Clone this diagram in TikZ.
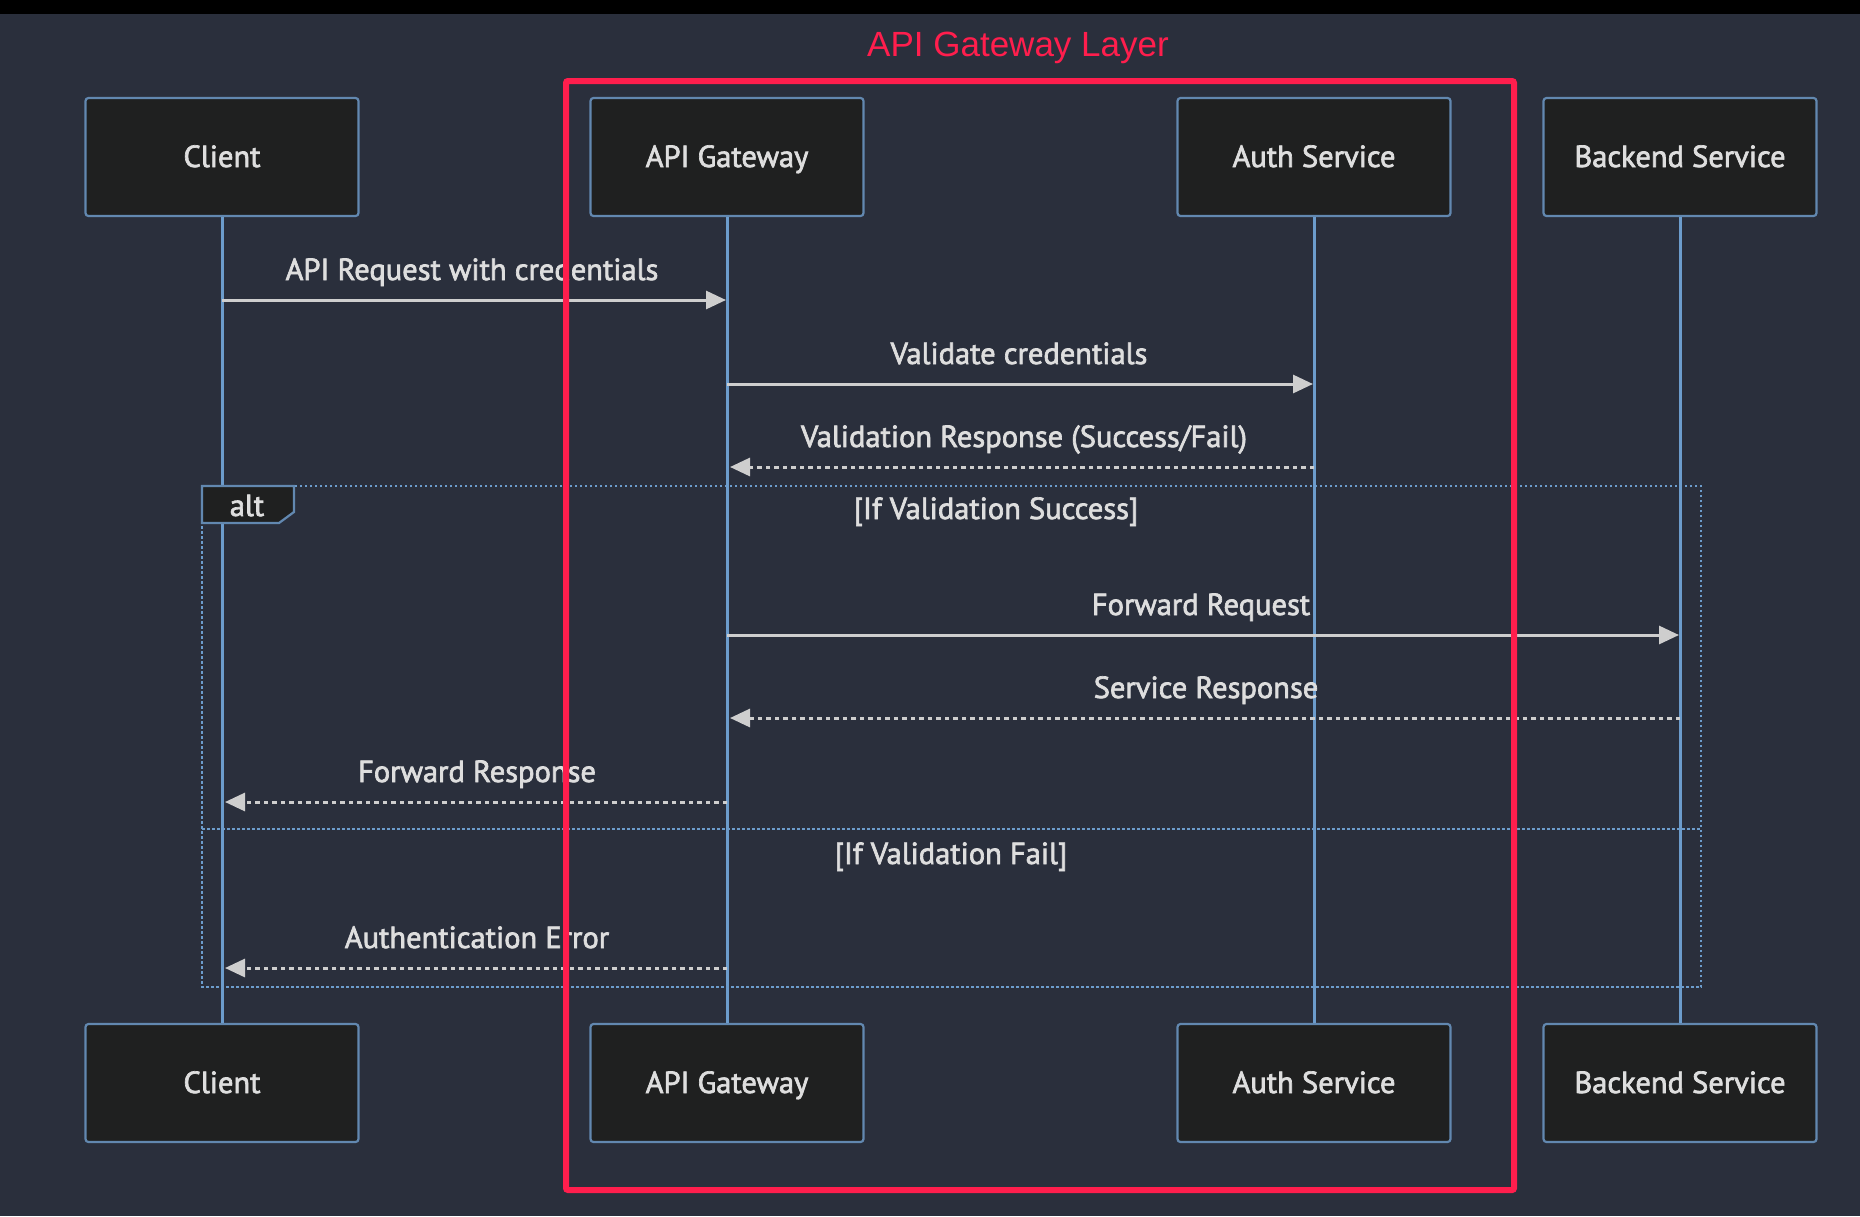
\documentclass[tikz,border=0pt]{standalone}
\usepackage{fontspec}
\setmainfont{PT Sans}
\newfontfamily\titlefont{Liberation Sans}
\newfontfamily\lblfont[FakeBold=2.2]{PT Sans}
\usetikzlibrary{arrows.meta}
\definecolor{bgc}{RGB}{42,47,60}
\definecolor{boxfill}{RGB}{31,32,32}
\definecolor{boxline}{RGB}{98,136,176}
\definecolor{lifec}{RGB}{108,156,204}
\definecolor{msgc}{RGB}{206,206,206}
\definecolor{txt}{RGB}{222,222,222}
\definecolor{redc}{RGB}{255,30,77}
\begin{document}
\begin{tikzpicture}[x=1pt,y=-1pt,
  actor/.style={draw=boxline, fill=boxfill, line width=2.2pt, rounded corners=3pt,
    minimum width=273pt, minimum height=118pt, inner sep=0pt, text=txt,
    font=\lblfont\fontsize{30.5}{34}\selectfont, text height=20pt, text depth=0pt},
  life/.style={draw=lifec, line width=3pt},
  msg/.style={draw=msgc, line width=3pt, -{Triangle[length=20pt,width=18pt]}},
  reply/.style={msg, dash pattern=on 4.5pt off 4pt},
  lbl/.style={text=txt, font=\lblfont\fontsize{30.5}{34}\selectfont, inner sep=0pt, anchor=base},
  cond/.style={text=txt, font=\lblfont\fontsize{30.5}{34}\selectfont, inner sep=0pt, text height=20pt, text depth=0pt},
  altbox/.style={draw=lifec, line width=2.6pt, dash pattern=on 2.5pt off 2.5pt}
]
\useasboundingbox (0,0) rectangle (1860,1216);
\fill[bgc] (0,0) rectangle (1860,1216);
\fill[black] (0,0) rectangle (1860,14);

% actors
\node[actor] (c1) at (222,157) {Client};
\node[actor] (g1) at (727,157) {API Gateway};
\node[actor] (a1) at (1314,157) {Auth Service};
\node[actor] (b1) at (1680,157) {Backend Service};
\node[actor] (c2) at (222,1083) {Client};
\node[actor] (g2) at (727,1083) {API Gateway};
\node[actor] (a2) at (1314,1083) {Auth Service};
\node[actor] (b2) at (1680,1083) {Backend Service};

% lifelines
\draw[life] (c1.south) -- (c2.north);
\draw[life] (g1.south) -- (g2.north);
\draw[life] (a1.south) -- (a2.north);
\draw[life] (b1.south) -- (b2.north);

% alt frame
\draw[altbox] (202,486) rectangle (1701,987);
\draw[altbox] (202,829) -- (1701,829);
\draw[draw=boxline, fill=boxfill, line width=2.2pt] (202,486) -- (294,486) -- (294,512) -- (279,523) -- (202,523) -- cycle;
\node[cond] (alt) at (247,506) {alt};
\node[cond] (succ) at (996,509) {[If Validation Success]};
\node[cond] (fail) at (951,854) {[If Validation Fail]};

% message endpoints
\coordinate (m1s) at (222,300);  \coordinate (m1e) at (726,300);
\coordinate (m2s) at (727,384);  \coordinate (m2e) at (1313,384);
\coordinate (m3s) at (1314,467); \coordinate (m3e) at (730,467);
\coordinate (m4s) at (727,635);  \coordinate (m4e) at (1679,635);
\coordinate (m5s) at (1680,718); \coordinate (m5e) at (730,718);
\coordinate (m6s) at (727,802);  \coordinate (m6e) at (225,802);
\coordinate (m7s) at (727,968);  \coordinate (m7e) at (225,968);

\draw[msg] (m1s) -- (m1e);
\draw[msg] (m2s) -- (m2e);
\draw[reply] (m3s) -- (m3e);
\draw[msg] (m4s) -- (m4e);
\draw[reply] (m5s) -- (m5e);
\draw[reply] (m6s) -- (m6e);
\draw[reply] (m7s) -- (m7e);

\node[lbl] (l1) at (472,280) {API Request with credentials};
\node[lbl] (l2) at (1019,364) {Validate credentials};
\node[lbl] (l3) at (1024,447) {Validation Response (Success/Fail)};
\node[lbl] (l4) at (1201,615) {Forward Request};
\node[lbl] (l5) at (1206,698) {Service Response};
\node[lbl] (l6) at (477,782) {Forward Response};
\node[lbl] (l7) at (477,948) {Authentication Error};

% red group
\draw[redc, line width=6pt, rounded corners=2pt] (566,81) rectangle (1514,1190);
\node[text=redc, font=\titlefont\fontsize{35}{40}\selectfont, inner sep=0pt] (title) at (1018,48) {API Gateway Layer};
\end{tikzpicture}
\end{document}
